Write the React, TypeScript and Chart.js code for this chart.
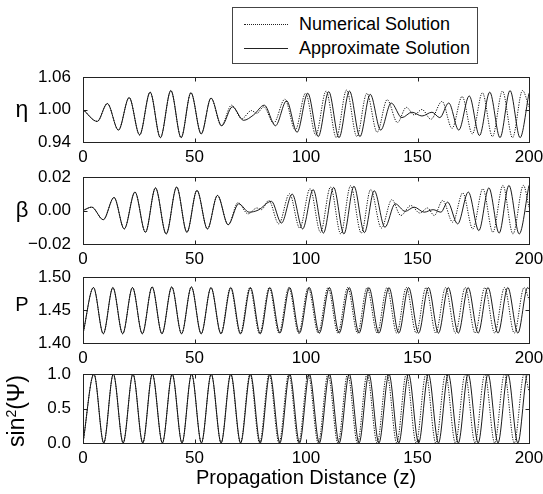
import React, { useEffect, useRef } from "react";
import { Chart, registerables } from "chart.js";
Chart.register(...registerables);

const FONT = "'Liberation Sans', Arial, Helvetica, sans-serif";

// ---- tick labels ----
const xTicks = [0, 50, 100, 150, 200];
const etaTicks = [0.94, 1.0, 1.06];
const betaTicks = [-0.02, 0.0, 0.02];
const pTicks = [1.4, 1.45, 1.5];
const sinTicks = [0.0, 0.5, 1.0];

const seriesLabels = ["Numerical Solution", "Approximate Solution"];
const yTitles = ["η", "β", "P"];
const xTitle = "Propagation Distance (z)";

// ---- data: extrema [z, value] ----
const etaNum: number[][] = [
  [0, 1.0], [6.4, 0.978], [10.9, 1.011], [15.9, 0.962], [20.7, 1.022], [25.4, 0.953], [30.1, 1.032],
  [34.7, 0.948], [39.4, 1.035], [44.0, 0.948], [48.4, 1.031], [53.0, 0.955], [57.4, 1.021], [62.0, 0.97],
  [66.6, 1.008], [71.2, 0.983], [75.5, 0.998], [78.0, 0.993], [81.0, 1.005], [85.5, 0.975], [90.5, 1.019],
  [95.2, 0.962], [99.8, 1.03], [104.4, 0.953], [109.0, 1.034], [113.6, 0.948], [118.2, 1.036], [122.8, 0.95],
  [127.3, 1.03], [131.9, 0.958], [136.4, 1.018], [141.0, 0.976], [145.0, 1.004], [148.5, 0.99], [152.0, 1.0],
  [156.0, 0.982], [161.0, 1.015], [165.5, 0.965], [170.0, 1.024], [174.6, 0.955], [179.1, 1.031], [183.6, 0.95],
  [188.1, 1.034], [192.6, 0.948], [197.1, 1.035], [200, 1.005],
];
const etaApp: number[][] = [
  [0, 1.0], [6.4, 0.978], [10.9, 1.011], [15.9, 0.962], [20.7, 1.022], [25.4, 0.953], [30.1, 1.032],
  [34.7, 0.948], [39.4, 1.035], [44.0, 0.948], [48.4, 1.031], [53.0, 0.955], [57.4, 1.021], [62.2, 0.97],
  [67.0, 1.005], [72.0, 0.98], [76.5, 0.99], [81.3, 1.008], [86.3, 0.97], [91.3, 1.016], [96.0, 0.958],
  [100.8, 1.03], [105.5, 0.95], [110.2, 1.033], [114.8, 0.948], [119.5, 1.034], [124.2, 0.95], [128.8, 1.028],
  [133.5, 0.962], [138.2, 1.012], [143.0, 0.985], [147.5, 0.995], [152.0, 0.988], [156.5, 0.995], [160.0, 0.985],
  [164.0, 1.012], [168.5, 0.962], [173.2, 1.025], [177.8, 0.952], [182.4, 1.032], [187.0, 0.948], [191.5, 1.035],
  [196.0, 0.948], [200, 1.03],
];

const betaNum: number[][] = [
  [0, 0.0], [3.9, 0.002], [9.1, -0.0055], [13.9, 0.0078], [18.5, -0.011], [23.3, 0.011], [28.0, -0.013],
  [32.5, 0.0135], [37.3, -0.014], [42.0, 0.014], [46.6, -0.013], [51.1, 0.012], [55.8, -0.011], [60.3, 0.009],
  [65.1, -0.0085], [69.5, 0.0047], [74.0, -0.002], [78.0, 0.0015], [80.0, 0.0005], [83.3, 0.006], [87.8, -0.008],
  [92.6, 0.01], [97.2, -0.0105], [101.8, 0.013], [106.5, -0.013], [111.0, 0.014], [115.6, -0.014], [120.0, 0.0148],
  [124.8, -0.0135], [129.0, 0.0125], [133.8, -0.0105], [138.5, 0.0065], [142.5, -0.003], [147.0, 0.003],
  [151.0, -0.0015], [154.5, 0.0015], [157.5, -0.003], [161.3, 0.006], [165.8, -0.007], [170.3, 0.0105],
  [174.8, -0.011], [179.3, 0.013], [183.8, -0.013], [188.3, 0.015], [192.8, -0.014], [197.5, 0.015], [200, 0.002],
];
const betaApp: number[][] = [
  [0, 0.0], [3.9, 0.002], [9.1, -0.0055], [13.9, 0.0078], [18.5, -0.011], [23.3, 0.011], [28.0, -0.013],
  [32.5, 0.0135], [37.3, -0.014], [42.0, 0.014], [46.6, -0.013], [51.1, 0.012], [55.8, -0.011], [60.3, 0.009],
  [65.1, -0.0085], [69.8, 0.004], [74.5, -0.001], [78.5, 0.0002], [84.5, 0.0055], [89.0, -0.0075], [93.8, 0.0098],
  [98.5, -0.011], [103.2, 0.0125], [107.8, -0.0135], [112.4, 0.0138], [117.0, -0.014], [121.5, 0.0145],
  [126.2, -0.0132], [130.6, 0.0118], [135.4, -0.01], [140.0, 0.004], [144.5, -0.0005], [148.5, 0.002],
  [153.0, -0.001], [157.0, 0.0005], [160.5, -0.001], [163.5, 0.005], [168.0, -0.008], [172.8, 0.011],
  [177.5, -0.012], [182.0, 0.0135], [186.6, -0.0135], [191.0, 0.015], [195.6, -0.014], [200, 0.015],
];

const pNum: number[][] = [
  [0, 1.414], [4.7, 1.484], [9.1, 1.414], [13.4, 1.484], [17.8, 1.414], [22.2, 1.484], [26.6, 1.414],
  [31.0, 1.485], [35.4, 1.414], [39.8, 1.485], [44.2, 1.414], [48.6, 1.485], [53.0, 1.414], [57.4, 1.484],
  [61.8, 1.414], [66.1, 1.484], [70.5, 1.414], [74.8, 1.484], [79.2, 1.414], [83.5, 1.484], [87.9, 1.415],
  [92.3, 1.484], [96.7, 1.415], [101.0, 1.484], [105.5, 1.415], [109.9, 1.484], [114.3, 1.415], [118.7, 1.484],
  [123.1, 1.415], [127.4, 1.484], [131.9, 1.415], [136.3, 1.484], [140.7, 1.415], [145.0, 1.484], [149.4, 1.415],
  [153.8, 1.484], [158.2, 1.415], [162.6, 1.484], [167.0, 1.415], [171.4, 1.484], [175.8, 1.415], [180.2, 1.484],
  [184.6, 1.415], [189.0, 1.484], [193.4, 1.415], [197.8, 1.484], [200, 1.466],
];
const pApp: number[][] = [
  [0, 1.414], [4.7, 1.484], [9.1, 1.414], [13.4, 1.484], [17.8, 1.414], [22.2, 1.484], [26.6, 1.414],
  [31.0, 1.485], [35.4, 1.414], [39.8, 1.485], [44.2, 1.414], [48.6, 1.485], [53.0, 1.414], [57.4, 1.484],
  [61.9, 1.414], [66.3, 1.484], [70.7, 1.414], [75.1, 1.484], [79.5, 1.414], [83.8, 1.484], [88.3, 1.415],
  [92.7, 1.484], [97.1, 1.415], [101.5, 1.484], [106.0, 1.415], [110.5, 1.484], [114.9, 1.415], [119.4, 1.484],
  [123.8, 1.415], [128.2, 1.484], [132.7, 1.415], [137.2, 1.484], [141.6, 1.415], [146.0, 1.484], [150.5, 1.415],
  [154.9, 1.484], [159.4, 1.415], [163.8, 1.484], [168.3, 1.415], [172.7, 1.484], [177.2, 1.415], [181.6, 1.484],
  [186.1, 1.415], [190.5, 1.484], [195.0, 1.415], [199.4, 1.484], [200, 1.482],
];

const sinNum: number[][] = [
  [0, 0], [4.9, 1], [9.3, 0], [13.6, 1], [18.0, 0], [22.4, 1], [26.8, 0], [31.1, 1], [35.6, 0], [40.0, 1],
  [44.4, 0], [48.7, 1], [53.1, 0], [57.5, 1], [61.9, 0], [66.2, 1], [70.6, 0], [74.9, 1], [79.2, 0], [83.5, 1],
  [87.9, 0], [92.3, 1], [96.7, 0], [101.0, 1], [105.5, 0], [109.9, 1], [114.3, 0], [118.7, 1], [123.1, 0],
  [127.4, 1], [131.9, 0], [136.3, 1], [140.7, 0], [145.0, 1], [149.4, 0], [153.8, 1], [158.2, 0], [162.6, 1],
  [167.0, 0], [171.4, 1], [175.8, 0], [180.2, 1], [184.6, 0], [189.0, 1], [193.4, 0], [197.8, 1], [200, 0.75],
];
const sinApp: number[][] = [
  [0, 0], [4.9, 1], [9.3, 0], [13.6, 1], [18.0, 0], [22.4, 1], [26.8, 0], [31.1, 1], [35.6, 0], [40.0, 1],
  [44.4, 0], [48.7, 1], [53.1, 0], [57.5, 1], [61.95, 0], [66.3, 1], [70.7, 0], [75.1, 1], [79.5, 0], [83.8, 1],
  [88.3, 0], [92.7, 1], [97.1, 0], [101.5, 1], [106.0, 0], [110.5, 1], [114.9, 0], [119.4, 1], [123.8, 0],
  [128.2, 1], [132.7, 0], [137.2, 1], [141.6, 0], [146.0, 1], [150.5, 0], [154.9, 1], [159.4, 0], [163.8, 1],
  [168.3, 0], [172.7, 1], [177.2, 0], [181.6, 1], [186.1, 0], [190.5, 1], [195.0, 0], [199.4, 1], [200, 0.98],
];

type PanelCfg = {
  top: number; // canvas top
  padTop: number;
  area: number; // chart area height
  xh: number; // x-axis box height
  num: number[][];
  app: number[][];
  yt: number[];
  digits: number;
  showTitle: boolean;
};

const panels: PanelCfg[] = [
  { top: 67, padTop: 10, area: 65, xh: 30, num: etaNum, app: etaApp, yt: etaTicks, digits: 2, showTitle: false },
  { top: 167, padTop: 10, area: 67, xh: 30, num: betaNum, app: betaApp, yt: betaTicks, digits: 2, showTitle: false },
  { top: 267, padTop: 10, area: 66, xh: 30, num: pNum, app: pApp, yt: pTicks, digits: 2, showTitle: false },
  { top: 364, padTop: 10, area: 69, xh: 51, num: sinNum, app: sinApp, yt: sinTicks, digits: 1, showTitle: true },
];

const framePlugin = {
  id: "frame",
  afterDatasetsDraw(chart: any) {
    const { ctx, chartArea: a, scales } = chart;
    const l = Math.round(a.left) + 0.5;
    const r = Math.round(a.right) + 0.5;
    const t = Math.round(a.top) + 0.5;
    const b = Math.round(a.bottom) + 0.5;
    ctx.save();
    ctx.strokeStyle = "#222";
    ctx.lineWidth = 1;
    ctx.strokeRect(l, t, r - l, b - t);
    const L = 4;
    ctx.beginPath();
    scales.x.ticks.forEach((tk: any) => {
      const px = Math.round(scales.x.getPixelForValue(tk.value)) + 0.5;
      ctx.moveTo(px, t);
      ctx.lineTo(px, t + L);
      ctx.moveTo(px, b);
      ctx.lineTo(px, b - L);
    });
    scales.y.ticks.forEach((tk: any) => {
      const py = Math.round(scales.y.getPixelForValue(tk.value)) + 0.5;
      ctx.moveTo(l, py);
      ctx.lineTo(l + L, py);
      ctx.moveTo(r, py);
      ctx.lineTo(r - L, py);
    });
    ctx.stroke();
    ctx.restore();
  },
};

function toPts(arr: number[][]) {
  return arr.map(([x, y]) => ({ x, y }));
}

function build(canvas: HTMLCanvasElement, p: PanelCfg) {
  return new Chart(canvas, {
    type: "line",
    data: {
      datasets: [
        {
          label: seriesLabels[0],
          data: toPts(p.num),
          borderColor: "#111",
          borderWidth: 1,
          borderDash: [1.2, 1.3],
          pointRadius: 0,
          cubicInterpolationMode: "monotone",
          fill: false,
        },
        {
          label: seriesLabels[1],
          data: toPts(p.app),
          borderColor: "#000",
          borderWidth: 0.9,
          pointRadius: 0,
          cubicInterpolationMode: "monotone",
          fill: false,
        },
      ],
    },
    options: {
      animation: false,
      responsive: false,
      maintainAspectRatio: false,
      layout: { padding: { top: p.padTop, right: 14, left: 0, bottom: 0 } },
      plugins: { legend: { display: false }, tooltip: { enabled: false } },
      scales: {
        x: {
          type: "linear",
          min: 0,
          max: 200,
          afterBuildTicks: (s: any) => {
            s.ticks = xTicks.map((v) => ({ value: v }));
          },
          afterFit: (s: any) => {
            s.height = p.xh;
            s.paddingLeft = 0;
            s.paddingRight = 0;
          },
          ticks: {
            font: { family: FONT, size: 17 },
            color: "#000",
            padding: 5,
            maxRotation: 0,
            autoSkip: false,
          },
          grid: { display: false, drawTicks: false, tickLength: 0 },
          border: { display: false },
          title: {
            display: p.showTitle,
            text: xTitle,
            color: "#000",
            font: { family: FONT, size: 20 },
            padding: { top: 0, bottom: 4 },
          },
        },
        y: {
          type: "linear",
          min: p.yt[0],
          max: p.yt[p.yt.length - 1],
          afterBuildTicks: (s: any) => {
            s.ticks = p.yt.map((v) => ({ value: v }));
          },
          afterFit: (s: any) => {
            s.width = 83;
            s.paddingTop = 0;
            s.paddingBottom = 0;
          },
          ticks: {
            font: { family: FONT, size: 17 },
            color: "#000",
            padding: 12,
            callback: (v: any) => Number(v).toFixed(p.digits).replace("-", "\u2212"),
          },
          grid: { display: false, drawTicks: false, tickLength: 0 },
          border: { display: false },
        },
      },
    } as any,
    plugins: [framePlugin],
  });
}

export default function App() {
  const refs = useRef<(HTMLCanvasElement | null)[]>([]);
  useEffect(() => {
    const charts = panels.map((p, i) => build(refs.current[i] as HTMLCanvasElement, p));
    return () => charts.forEach((c) => c.destroy());
  }, []);

  const titleStyle = (cx: number, cy: number, size: number): React.CSSProperties => ({
    position: "absolute",
    left: cx,
    top: cy,
    transform: "translate(-50%, -50%)",
    fontFamily: FONT,
    fontSize: size,
    lineHeight: 1,
    color: "#000",
    whiteSpace: "nowrap",
  });

  return (
    <div style={{ position: "absolute", left: 0, top: 0, width: 543, height: 494, background: "#fff", overflow: "hidden" }}>
      {panels.map((p, i) => (
        <canvas
          key={i}
          ref={(el) => {
            refs.current[i] = el;
          }}
          width={543}
          height={p.padTop + p.area + p.xh}
          style={{ position: "absolute", left: 0, top: p.top, width: 543, height: p.padTop + p.area + p.xh }}
        />
      ))}
      <div style={titleStyle(22, 109, 23)}>{yTitles[0]}</div>
      <div style={titleStyle(22, 210, 22)}>{yTitles[1]}</div>
      <div style={titleStyle(22, 304, 20)}>{yTitles[2]}</div>
      <div style={{ ...titleStyle(16, 411, 23), transform: "translate(-50%, -50%) rotate(-90deg)" }}>
        sin<sup style={{ fontSize: 14 }}>2</sup>(Ψ)
      </div>
      <div
        style={{
          position: "absolute",
          left: 232,
          top: 7,
          width: 244,
          height: 55,
          border: "1px solid #444",
          background: "#fff",
          fontFamily: FONT,
          fontSize: 18,
          color: "#000",
        }}
      >
        <div style={{ position: "absolute", left: 11, top: 16, width: 44, borderTop: "1px dotted #222" }} />
        <div style={{ position: "absolute", left: 66, top: 6, lineHeight: "20px", whiteSpace: "nowrap" }}>{seriesLabels[0]}</div>
        <div style={{ position: "absolute", left: 11, top: 40, width: 44, borderTop: "1px solid #222" }} />
        <div style={{ position: "absolute", left: 66, top: 30, lineHeight: "20px", whiteSpace: "nowrap" }}>{seriesLabels[1]}</div>
      </div>
    </div>
  );
}
